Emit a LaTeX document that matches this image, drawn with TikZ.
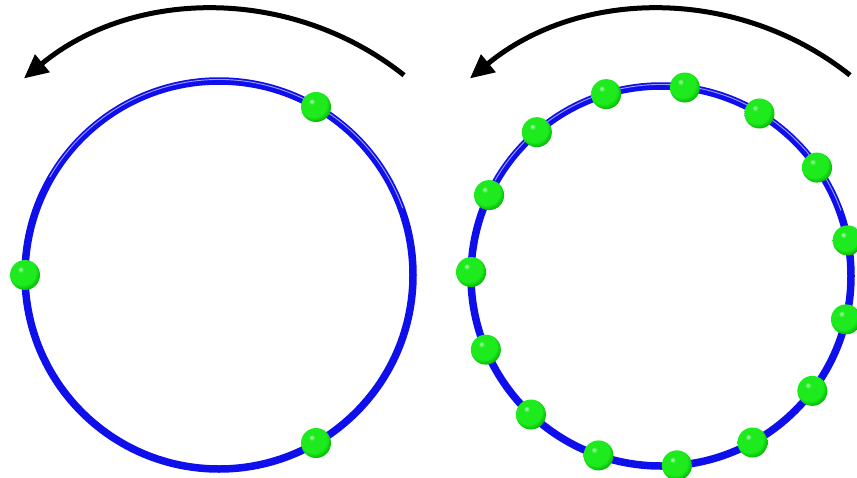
\documentclass[tikz,border=0pt]{standalone}
\usetikzlibrary{arrows.meta}
\definecolor{ringblue}{RGB}{15,15,235}
\definecolor{ringlight}{RGB}{160,160,255}
\definecolor{beadgreen}{RGB}{30,235,30}
\pgfdeclareradialshading{beadshade}{\pgfpoint{-8bp}{10bp}}{%
  color(0bp)=(green!25!white);
  color(5bp)=(beadgreen);
  color(22bp)=(beadgreen);
  color(30bp)=(green!70!black);
  color(50bp)=(green!70!black)}
\tikzset{
  ring/.style={draw=ringblue, line width=7.5pt},
  ringhl/.style={draw=ringlight, line width=0.9pt},
  bead/.style={shading=beadshade, draw=none},
  turn/.style={draw=black, line width=5pt, -{Triangle[length=24pt,width=22pt]}}
}
\begin{document}
\begin{tikzpicture}[x=1pt,y=-1pt]
\useasboundingbox (0,0) rectangle (857,477);
\begin{scope}
\clip (0,0) rectangle (857,477);
% left ring
\coordinate (L) at (219,275);
\draw[ring] (L) circle[radius=194];
\draw[ringhl] ([shift={(-20:195.5)}]L) arc[start angle=-20, end angle=-150, radius=195.5];
\foreach \a in {60,180,300}
  \shade[bead] ([shift={(-\a:194)}]L) circle[radius=15];
% left arrow
\coordinate (LA) at (216,311.5);
\draw[turn] ([shift={(-51.5:302)}]LA) arc[start angle=-51.5, end angle=-129.5, radius=302];
% right ring
\coordinate (R) at (661,276);
\draw[ring] (R) circle[radius=190];
\draw[ringhl] ([shift={(-20:191.5)}]R) arc[start angle=-20, end angle=-150, radius=191.5];
\foreach \k in {0,...,14}
  \shade[bead] ([shift={(-10.8-24*\k:190)}]R) circle[radius=15];
% right arrow
\coordinate (RA) at (662,311.5);
\draw[turn] ([shift={(-51.5:302)}]RA) arc[start angle=-51.5, end angle=-129.5, radius=302];
\end{scope}
\end{tikzpicture}
\end{document}
